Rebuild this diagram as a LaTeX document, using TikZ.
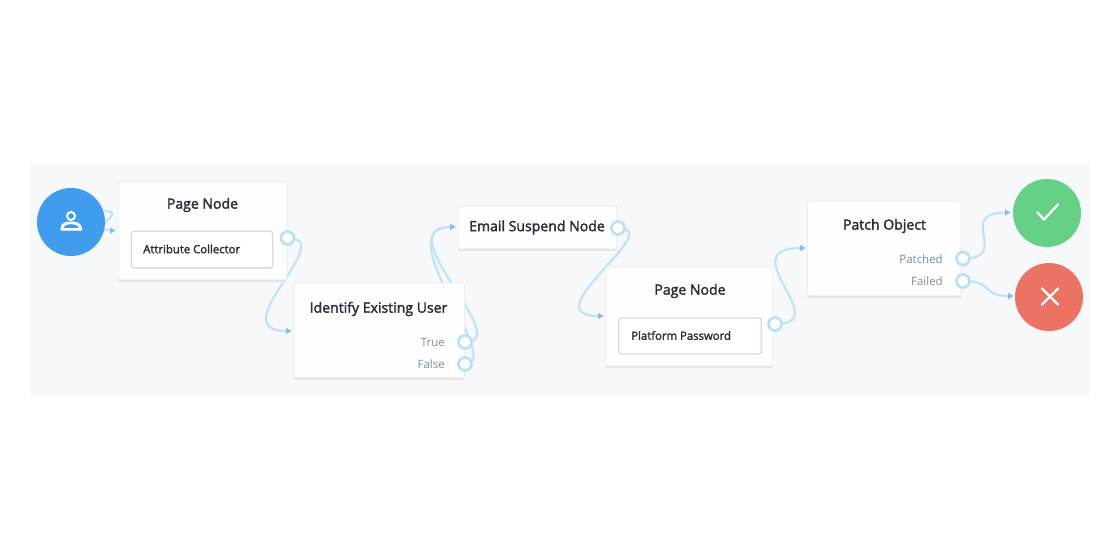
\documentclass[tikz,border=0pt]{standalone}
\usepackage{fontspec}
\setmainfont{Open Sans}
\newfontfamily\semi[FakeBold=2.2]{Open Sans}
\usetikzlibrary{arrows.meta}
\definecolor{bgc}{HTML}{F7F8FA}
\definecolor{wire}{HTML}{C0E1FA}
\definecolor{tipc}{HTML}{7CBDF2}
\definecolor{portc}{HTML}{BCDFF9}
\definecolor{inner}{HTML}{D6DBE4}
\definecolor{ink}{HTML}{2B2F36}
\definecolor{muted}{HTML}{7F89A3}
\definecolor{startc}{HTML}{409DEE}
\definecolor{okc}{HTML}{65D186}
\definecolor{badc}{HTML}{EC7264}
\tikzset{
 x=0.75pt,y=-0.75pt,
 wirepath/.style={draw=wire,line width=1.6pt,-{Latex[length=4.4pt,width=5pt,color=tipc]}},
 card/.style={draw=black!7,line width=.7pt,fill=white,fill opacity=.93,text opacity=1,rounded corners=1.5pt,inner sep=0pt},
 cardshadow/.style={draw=black!10,line width=1.3pt,line cap=round},
 slot/.style={draw=inner,line width=1pt,fill=white,rounded corners=1.8pt,inner sep=0pt},
 port/.style={circle,draw=portc,line width=2pt,fill=white,minimum size=13*.75pt,inner sep=0pt},
 title/.style={font=\semi\fontsize{10.55}{13}\selectfont,text=ink,inner sep=0pt},
 slottext/.style={font=\semi\fontsize{8.5}{11}\selectfont,text=ink,inner sep=0pt,anchor=west},
 outtext/.style={font=\fontsize{8.6}{11}\selectfont,text=muted,inner sep=0pt,anchor=east},
 terminal/.style={circle,minimum size=68*.75pt,inner sep=0pt},
 glyph/.style={draw=white,line width=1.7pt,line cap=round,line join=round},
}
\begin{document}
\begin{tikzpicture}
\useasboundingbox (0,0) rectangle (1120,560);
\fill[white] (0,0) rectangle (1120,560);
\fill[bgc] (30,163) rectangle (1090,396);
% coordinates
\coordinate (pA) at (287.5,238);
\coordinate (pT) at (465,342);
\coordinate (pF) at (465,364);
\coordinate (pE) at (618,228);
\coordinate (pP) at (775,324);
\coordinate (pOk) at (963,258.5);
\coordinate (pNo) at (963,281);
\coordinate (s1) at (104,211);
\coordinate (tA) at (116,230.5);
\coordinate (tB) at (292,331);
\coordinate (tC) at (456,227);
\coordinate (tD) at (604,316);
\coordinate (tE) at (806,248);
\coordinate (tF) at (1011,212.5);
\coordinate (tG) at (1014,296);
% connectors
\draw[wirepath] (s1) .. controls (130,211) and (84,230.5) .. (tA);
\draw[wirepath] (pA) .. controls (340,238) and (220,331) .. (tB);
\draw[wirepath] (pT) .. controls (516,342) and (385,227) .. (tC);
\draw[wirepath] (pF) .. controls (506,364) and (385,227) .. (tC);
\draw[wirepath] (pE) .. controls (668,228) and (530,316) .. (tD);
\draw[wirepath] (pP) .. controls (836,324) and (730,248) .. (tE);
\draw[wirepath] (pOk) .. controls (1012,258.5) and (955,212.5) .. (tF);
\draw[wirepath] (pNo) .. controls (995,281) and (980,296) .. (tG);
% cards
\node[card,minimum width=126.5pt,minimum height=74pt] (cardA) at (202.6,230.5) {};
\node[card,minimum width=128pt,minimum height=71pt] (cardB) at (379,330.5) {};
\node[card,minimum width=119pt,minimum height=32pt] (cardC) at (537.5,227.5) {};
\node[card,minimum width=125.5pt,minimum height=74pt] (cardD) at (689.3,316.5) {};
\node[card,minimum width=115.5pt,minimum height=71pt] (cardE) at (884.3,248.5) {};
\foreach \c in {cardA,cardB,cardC,cardD,cardE}
  \draw[cardshadow] ([xshift=1pt,yshift=-.4pt]\c.south west) -- ([xshift=-1pt,yshift=-.4pt]\c.south east);
\node[slot,minimum width=106pt,minimum height=27.5pt] (slotA) at (202,249.5) {};
\node[slot,minimum width=107pt,minimum height=27pt] (slotD) at (690,336) {};
% text
\node[title] (tPageA) at (202.5,205) {Page Node};
\node[slottext] (tAttr) at (143,249) {Attribute Collector};
\node[title] (tIdent) at (378.5,309) {Identify Existing User};
\node[outtext] (tTrue) at (445,342) {True};
\node[outtext] (tFalse) at (445,364.5) {False};
\node[title] (tEmail) at (537,227.5) {Email Suspend Node};
\node[title] (tPageD) at (690,291) {Page Node};
\node[slottext] (tPlat) at (631,335.5) {Platform Password};
\node[title] (tPatch) at (884.5,226) {Patch Object};
\node[outtext] (tPatched) at (943,259) {Patched};
\node[outtext] (tFailed) at (943,281) {Failed};
% ports
\node[port] (portA) at (pA) {};
\node[port] (portT) at (pT) {};
\node[port] (portF) at (pF) {};
\node[port] (portE) at (pE) {};
\node[port] (portP) at (pP) {};
\node[port] (portOk) at (pOk) {};
\node[port] (portNo) at (pNo) {};
% terminals
\node[terminal,fill=startc] (start) at (71,222) {};
\node[terminal,fill=okc] (ok) at (1047,213) {};
\node[terminal,fill=badc] (bad) at (1049,297) {};
% icons
\draw[glyph,line width=1.5pt] (71,216) circle (4);
\fill[white,even odd rule] (60.5,230.5) -- (82,230.5) -- (82,228) .. controls (81,222) and (75,221.5) .. (71,221.5) .. controls (67,221.5) and (61,222) .. (60.5,228) -- cycle
  (63.5,228) -- (79,228) .. controls (78,225) and (74,224) .. (71,224) .. controls (68,224) and (64,225) .. (63.5,228) -- cycle;
\draw[glyph] (1037.5,212.5) -- (1044,219.5) -- (1058,204.5);
\draw[glyph] (1042,288.5) -- (1058,304.5) (1058,288.5) -- (1042,304.5);
\end{tikzpicture}
\end{document}
